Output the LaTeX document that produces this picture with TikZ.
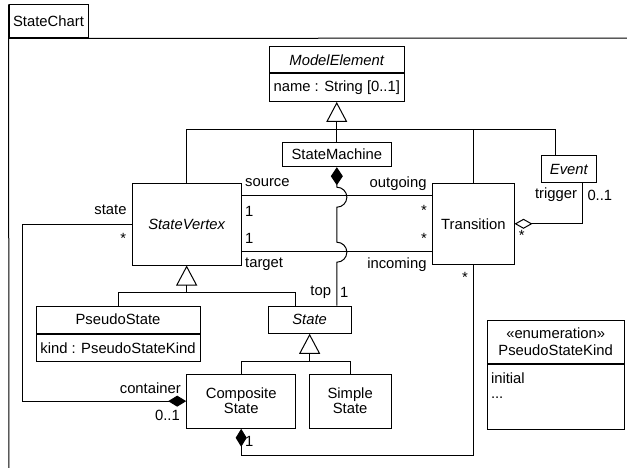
\documentclass[tikz,border=0pt]{standalone}
\usepackage{fontspec}
\setmainfont{Liberation Sans}
\usetikzlibrary{arrows.meta,calc}
\begin{document}
\begin{tikzpicture}[x=1pt,y=-1pt,
  lw/.style={line width=1pt},
  txt/.style={font=\fontsize{14.8pt}{15pt}\selectfont, inner sep=0pt},
  box/.style={txt, draw, line width=1pt, rectangle, align=center},
  gen/.style={line width=1pt,-{Triangle[open,length=20pt,width=21pt]}},
  comp/.style={line width=1pt,-{Diamond[length=18pt,width=11pt]}},
  agg/.style={line width=1pt,-{Diamond[open,fill=white,length=18pt,width=10pt]}},
]
\useasboundingbox (0,0) rectangle (627,468);
\fill[white] (0,0) rectangle (627,468);

% package frame with its name tab
\node[box, minimum width=79pt, minimum height=33pt] (tab) at (48.5,21.5) {StateChart};
\draw[lw] (tab.north west) -- (9,472);
\draw[lw] (tab.south west) -- (632,38);

% classes
\node[box, minimum width=134.5pt, minimum height=26.5pt] (me) at (336.75,59.75) {\itshape ModelElement};
\node[box, minimum width=134.5pt, minimum height=27.5pt, anchor=north] (mea) at (me.south) {name : String [0..1]};

\node[box, minimum width=108.3pt, minimum height=24.2pt] (sm) at (336.85,154.6) {StateMachine};
\node[box, minimum width=108.7pt, minimum height=81.7pt] (sv) at (186.65,224.15) {\itshape StateVertex};
\node[box, minimum width=81.3pt, minimum height=81pt] (tr) at (473.35,223.8) {Transition};
\node[box, minimum width=54.3pt, minimum height=27pt] (ev) at (568.85,169.2) {\itshape Event};

\node[box, minimum width=164pt, minimum height=27.3pt] (ps) at (118,319.65) {PseudoState};
\node[box, minimum width=164pt, minimum height=27.4pt, anchor=north] (psa) at (ps.south) {kind : PseudoStateKind};
\node[box, minimum width=82.7pt, minimum height=27.3pt] (st) at (309.65,319.65) {\itshape State};

\node[box, minimum width=109pt, minimum height=54.3pt] (cs) at (241.2,401.15) {Composite\\State};
\node[box, minimum width=81.7pt, minimum height=54.3pt] (ss) at (350.15,401.15) {Simple\\State};

\node[box, minimum width=136.7pt, minimum height=43.3pt, font=\fontsize{14.8pt}{16.7pt}\selectfont] (en) at (555.65,341.65) {«enumeration»\\PseudoStateKind};
\node[box, minimum width=136.7pt, minimum height=65pt, anchor=north] (enb) at (en.south) {};
\node[txt, align=left, anchor=north west] (enlit) at ($(enb.north west)+(4,9)$) {initial\\...};

% generalization to ModelElement
\coordinate (gj) at ($(mea.south)+(0,27.2)$);
\coordinate (evt) at ($(ev.north west)+(14,0)$);
\draw[gen] (gj) -- (mea.south);
\draw[lw] (sv.north) |- (gj) -| (tr.north);
\draw[lw] (gj) -| (evt);
\draw[lw] (sm.north) -- (sm.north |- gj);

% StateMachine top composition, jumping over source and target
\draw[lw, {Diamond[length=18pt,width=12pt]}-] (sm.south) -- ++(0,20)
  arc[start angle=-90,end angle=90,radius=10] -- ++(0,35)
  arc[start angle=-90,end angle=90,radius=10] -- (st.north -| sm.south);

% source and target associations
\coordinate (ys) at (0,196);
\coordinate (yt) at (0,251);
\draw[lw] (sv.east |- ys) -- (tr.west |- ys);
\draw[lw] (sv.east |- yt) -- (tr.west |- yt);

% trigger aggregation
\coordinate (evb) at ($(ev.south west)+(41,0)$);
\draw[agg] (evb) |- (tr.east);

% transitions owned by CompositeState
\coordinate (yb) at (0,455);
\draw[comp] (tr.south) -- (tr.south |- yb) -| (cs.south);

% state / container composition
\coordinate (xl) at (22.7,0);
\draw[comp] (sv.west) -- (sv.west -| xl) |- (cs.west);

% generalization to StateVertex
\coordinate (gj2) at ($(sv.south)+(0,27.3)$);
\coordinate (stl) at ($(st.north west)+(27.4,0)$);
\draw[gen] (gj2) -- (sv.south);
\draw[lw] (ps.north) |- (gj2) -| (stl);

% generalization to State
\coordinate (gj3) at ($(st.south)+(0,27.4)$);
\draw[gen] (gj3) -- (st.south);
\draw[lw] (cs.north) |- (gj3) -| (ss.north);

% role names and multiplicities
\node[txt, anchor=west] (l1) at (245,183) {source};
\node[txt, anchor=west] (l2) at (245,211) {1};
\node[txt, anchor=west] (l3) at (245,238) {1};
\node[txt, anchor=west] (l4) at (245,264.5) {target};
\node[txt, anchor=east] (l5) at (426.7,183.3) {outgoing};
\node[txt, anchor=east] (l6) at (427,210.3) {*};
\node[txt, anchor=east] (l7) at (427,238.3) {*};
\node[txt, anchor=east] (l8) at (426.7,264.3) {incoming};
\node[txt, anchor=east] (l9) at (126.7,210) {state};
\node[txt] (l10) at (123.3,238.3) {*};
\node[txt] (l11) at (150.3,388.3) {container};
\node[txt, anchor=east] (l12) at (180,415.7) {0..1};
\node[txt] (l13) at (249.3,441.7) {1};
\node[txt] (l14) at (320.7,292.3) {top};
\node[txt] (l15) at (344.3,292.3) {1};
\node[txt] (l16) at (465,277.6) {*};
\node[txt] (l17) at (556,195) {trigger};
\node[txt, anchor=west] (l18) at (587.3,195) {0..1};
\node[txt] (l19) at (521.7,235) {*};
\end{tikzpicture}
\end{document}
